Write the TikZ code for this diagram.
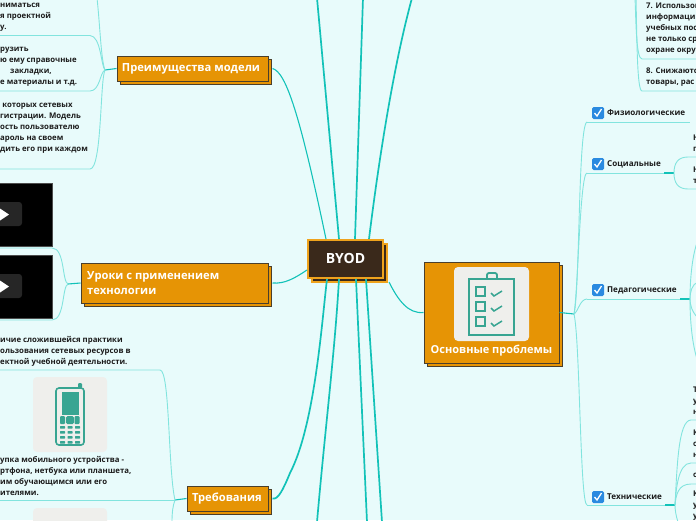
\documentclass[tikz,border=0pt]{standalone}
\usepackage{fontspec}
\setmainfont{Open Sans}
\usetikzlibrary{shadows}
\definecolor{paper}{HTML}{E8FBFB}
\definecolor{boxfill}{HTML}{E69405}
\definecolor{boxedge}{HTML}{4A3F2C}
\definecolor{rootfill}{HTML}{3A291B}
\definecolor{rootedge}{HTML}{EFA31D}
\definecolor{mainline}{HTML}{12C2B8}
\definecolor{subline}{HTML}{82E4DE}
\definecolor{tile}{HTML}{EFEFEC}
\definecolor{icon}{HTML}{38A592}
\definecolor{ink}{HTML}{1C1C1C}
\definecolor{tick}{HTML}{2A8AE0}
\tikzset{%
	block/.style    = {draw=boxedge, fill=boxfill, line width=1pt, text=white, inner sep=0pt,
		font=\bfseries\fontsize{11.2}{15}\selectfont, align=left,
		copy shadow={shadow xshift=3pt, shadow yshift=-3pt}},
	label/.style    = {font=\bfseries\fontsize{11.2}{15}\selectfont, text=white, inner sep=0pt, align=left},
	root/.style     = {draw=rootedge, fill=rootfill, line width=2pt, text=white, inner sep=0pt,
		font=\bfseries\fontsize{14}{15}\selectfont,
		copy shadow={shadow xshift=4pt, shadow yshift=-4pt}},
	note/.style     = {font=\bfseries\fontsize{7.8}{11}\selectfont, text=ink, inner sep=0pt,
		anchor=west, align=left},
	topic/.style    = {note, font=\bfseries\fontsize{8.1}{11}\selectfont},
	tick/.style     = {fill=tick, rounded corners=1.5pt, minimum size=12pt, inner sep=0pt},
	tilebox/.style  = {fill=tile, rounded corners=4pt, inner sep=0pt},
	video/.style    = {fill=black, draw=black!70, inner sep=0pt},
	main/.style     = {draw=mainline, line width=1.7pt},
	sub/.style      = {draw=subline, line width=0.9pt},
	stub/.style     = {draw=mainline, line width=1.1pt}
}
% ticked box next to a topic
\newcommand{\tickmark}[2]{%
	\node[tick] (#1) at #2 {};
	\draw[white, line width=1.3pt] ([shift={(-3.5pt,0pt)}]#1.center) -- ([shift={(-1pt,-3pt)}]#1.center) -- ([shift={(3.5pt,4pt)}]#1.center);
}
\begin{document}
\begin{tikzpicture}[x=1pt,y=-1pt]
	\useasboundingbox[fill=paper] (0,0) rectangle (696,520);

	% boxes
	\node[root, minimum width=75pt, minimum height=38pt] (byod) at (345.5,258.5) {BYOD};
	\node[block, minimum width=151pt, minimum height=25pt] (prem) at (192.5,68.5) {};
	\node[block, minimum width=187pt, minimum height=40pt] (lessons) at (174.5,283) {};
	\node[block, minimum width=81pt, minimum height=25pt] (reqs) at (227.5,498.5) {};
	\node[block, minimum width=135pt, minimum height=101pt] (issues) at (491.5,312.5) {};
	\node[label] (premtext) at (191,69) {Преимущества модели};
	\node[label, anchor=west] (lessonstext) at (87,283.5) {Уроки с применением\\технологии};
	\node[label] (reqstext) at (227,499) {Требования};
	\node[label, font=\bfseries\fontsize{11}{15}\selectfont] (issuestext) at (491.5,351) {Основные проблемы};

	% free ends and joints
	\coordinate (jprem) at (105,70);
	\coordinate (jless) at (68,284);
	\coordinate (jreqs) at (175,500);
	\coordinate (jissu) at (574,314);
	\coordinate (jsoc) at (674,173);
	\coordinate (jped) at (690,299);
	\coordinate (jtech) at (675,505);
	\coordinate (ta) at (326,239);
	\coordinate (tb) at (339,239);
	\coordinate (tc) at (355,239);
	\coordinate (td) at (369,239);
	\coordinate (ba) at (327,279);
	\coordinate (bb) at (339,279);
	\coordinate (bc) at (356,279);
	\coordinate (bd) at (366,279);
	\coordinate (be) at (389,282);
	\coordinate (la) at (307,270);
	\coordinate (uptb) at (317,-2);
	\coordinate (uptc) at (363,-2);
	\coordinate (uptd) at (412,-2);
	\coordinate (dnbb) at (317,522);
	\coordinate (dnbc) at (367,522);
	\coordinate (dnbd) at (382,522);

	% main branches
	\draw[main, line width=1.1pt] ([xshift=4pt]prem.east) .. controls (286,72) and (300,115) .. (ta);
	\draw[main] (uptb) -- (tb);
	\draw[main] (uptc) -- (tc);
	\draw[main] (uptd) .. controls (395,60) and (380,150) .. (td);
	\draw[main] (ba) .. controls (322,320) and (315,425) .. (290,473) .. controls (283,490) and (278,500) .. ([xshift=4pt]reqs.east);
	\draw[main] (bb) .. controls (335,350) and (325,430) .. (dnbb);
	\draw[main] (bc) -- (dnbc);
	\draw[main] (bd) -- (dnbd);
	\draw[main, line width=1.1pt] (la) .. controls (295,278) and (285,284) .. ([xshift=4pt]lessons.east);
	\draw[main, line width=1.1pt] (be) .. controls (398,300) and (408,314) .. (issues.west);

	% left: Преимущества модели
	\draw[stub] (prem.west) -- (jprem);
	\coordinate (e1) at (97,-2);
	\coordinate (e2) at (0,35.5);
	\coordinate (e3) at (0,91);
	\coordinate (e4) at (0,169);
	\draw[sub] (jprem) .. controls (101,60) and (100,25) .. (e1);
	\draw[sub] (jprem) .. controls (101,66) and (101,36) .. (90,35.5) -- (e2);
	\draw[sub] (jprem) .. controls (100,72) and (100,91) .. (90,91) -- (e3);
	\draw[sub] (jprem) .. controls (100,80) and (102,169) .. (90,169) -- (e4);
	\node[note] (n1) at (0,17) {ниматься\\я проектной\\у.};
	\node[note] (n2) at (0,55.5) {рузить\\ю ему справочные};
	\node[note] (n2b) at (10,72) {закладки,};
	\node[note] (n2c) at (0,83) {е материалы и т.д.};
	\node[note] (n3) at (0,128) {\phantom{.}которых сетевых\\гистрации. Модель\\ость пользователю\\ароль на своем\\дить его при каждом};

	% left: Уроки с применением технологии
	\draw[stub] (lessons.west) -- (jless);
	\coordinate (e5) at (0,248);
	\coordinate (e6) at (0,320);
	\draw[sub] (jless) .. controls (62,282) and (65,248) .. (52,248) -- (e5);
	\draw[sub] (jless) .. controls (62,286) and (65,320) .. (52,320) -- (e6);
	\node[video, minimum width=54pt, minimum height=63pt] (vid1) at (25,214.5) {};
	\node[video, minimum width=54pt, minimum height=63pt] (vid2) at (25,286.5) {};
	\fill[black!85, rounded corners=3pt] (-5,202) rectangle (22,226);
	\fill[black!85, rounded corners=3pt] (-5,274) rectangle (22,298);
	\fill[white] (0,208.5) -- (9,214.5) -- (0,220.5) -- cycle;
	\fill[white] (0,280.5) -- (9,286.5) -- (0,292.5) -- cycle;

	% left: Требования
	\draw[stub] (reqs.west) -- (jreqs);
	\coordinate (e7) at (0,370);
	\coordinate (e8) at (0,500);
	\coordinate (e9) at (172,522);
	\draw[sub] (jreqs) .. controls (168,470) and (170,370) .. (160,370) -- (e7);
	\draw[sub] (jreqs) -- (e8);
	\draw[sub] (jreqs) .. controls (173,505) and (172,512) .. (e9);
	\node[note] (n4) at (0,351) {ичие сложившейся практики\\ользования сетевых ресурсов в\\ектной учебной деятельности.};
	\node[note] (n5) at (0,475.5) {упка мобильного устройства -\\ртфона, нетбука или планшета,\\им обучающимся или его\\ителями.};
	\node[tilebox, minimum width=74pt, minimum height=75pt] (phone) at (70,414.5) {};
	\node[tilebox, minimum width=74pt, minimum height=30pt] (tile2) at (70,523) {};
	% phone
	\draw[icon, line width=1.6pt, rounded corners=3pt] (56,388) rectangle (84,445);
	\fill[icon, rounded corners=1pt] (78,383) rectangle (82,388);
	\fill[icon] (62,392) rectangle (79,415);
	\fill[icon, rounded corners=1.5pt] (66,416) rectangle (74,424);
	\foreach \px in {60,74.5} {
		\fill[icon, rounded corners=1pt] (\px,416) rectangle ++(5,8);
	}
	\foreach \px in {60,67.5,75} {
		\foreach \py in {425,430,435,440} {
			\fill[icon, rounded corners=.5pt] (\px,\py+1) rectangle ++(5,2.6);
		}
	}

	% right: Основные проблемы
	\coordinate (e10) at (587,122);
	\coordinate (e11) at (587,173);
	\coordinate (e12) at (587,299);
	\coordinate (e13) at (587,505);
	\draw[stub] (issues.east) -- (jissu);
	\draw[sub] (jissu) .. controls (580,290) and (578,125) .. (e10);
	\draw[sub] (jissu) .. controls (578,290) and (580,173) .. (e11);
	\draw[sub] (jissu) .. controls (578,312) and (580,299) .. (e12);
	\draw[sub] (jissu) .. controls (580,340) and (580,505) .. (e13);
	\draw[sub] (e10) -- (690,122);
	\draw[sub] (e11) -- (jsoc);
	\draw[sub] (e12) -- (jped);
	\draw[sub] (e13) -- (jtech);
	\draw[stub] (664,173) -- (jsoc);
	\draw[stub] (680,299) -- (jped);
	\draw[stub] (665,505) -- (jtech);

	% right: children of the topics
	\coordinate (r1) at (698,157);
	\coordinate (r2) at (698,189);
	\coordinate (r3) at (698,240);
	\coordinate (r4) at (698,282);
	\coordinate (r5) at (698,318);
	\coordinate (r6) at (698,362);
	\coordinate (r7) at (698,420);
	\coordinate (r8) at (698,463);
	\coordinate (r9) at (698,484);
	\coordinate (r10) at (678,522);
	\coordinate (r11) at (698,59);
	\coordinate (r12) at (698,91);
	\coordinate (r13) at (635,-2);
	\coordinate (r14) at (636,-2);
	\draw[sub] (jsoc) .. controls (674,163) and (678,157) .. (688,157) -- (r1);
	\draw[sub] (jsoc) .. controls (674,183) and (678,189) .. (688,189) -- (r2);
	\draw[sub] (jped) .. controls (690,280) and (692,255) .. (r3);
	\draw[sub] (jped) .. controls (690,292) and (692,284) .. (r4);
	\draw[sub] (jped) .. controls (690,305) and (692,312) .. (r5);
	\draw[sub] (jped) .. controls (690,320) and (692,345) .. (r6);
	\draw[sub] (jtech) .. controls (677,470) and (678,420) .. (691,420) -- (r7);
	\draw[sub] (jtech) .. controls (676,490) and (678,463) .. (691,463) -- (r8);
	\draw[sub] (jtech) .. controls (676,495) and (678,484) .. (691,484) -- (r9);
	\draw[sub] (jtech) .. controls (675,510) and (676,516) .. (r10);
	\draw[sub] (r13) .. controls (636,20) and (636,59) .. (642,59) -- (r11);
	\draw[sub] (r14) .. controls (637,40) and (637,91) .. (642,91) -- (r12);

	\tickmark{chka}{(598,113)}
	\tickmark{chkb}{(598,164)}
	\tickmark{chkc}{(598,290)}
	\tickmark{chkd}{(598,497)}
	\node[topic] (physio) at (607,113) {Физиологические};
	\node[topic] (social) at (607,164) {Социальные};
	\node[topic] (pedag) at (607,290) {Педагогические};
	\node[topic] (techn) at (607,497) {Технические};
	\node[note] (n6) at (646,29) {7. Использов\\информаци\\учебных пос\\не только ср\\охране окру};
	\node[note] (n7) at (646,77.5) {8. Снижаютс\\товары, рас};
	\node[note] (n8) at (693,143.5) {Н\\п};
	\node[note] (n9) at (693,175.5) {Н\\т};
	\node[note] (n10) at (693,401) {Т\\у\\н};
	\node[note] (n11) at (693,444) {К\\о\\н};
	\node[note] (n12) at (693,475) {о};
	\node[note] (n13) at (693,506) {К\\у\\у};

	% Основные проблемы: checklist
	\node[tilebox, minimum width=75pt, minimum height=74pt] (list) at (491.5,304) {};
	\draw[icon, line width=2.6pt] (469,279) rectangle (514,335);
	\draw[icon, line width=1.8pt, rounded corners=2pt] (487,279) -- (487,273) -- (497,273) -- (497,279);
	\foreach \py in {287,302,317} {
		\draw[icon, line width=1.3pt] (476,\py) rectangle ++(9,9);
		\draw[icon, line width=1.5pt] (491,\py+6) -- (494,\py+9) -- (502,\py+4);
	}
\end{tikzpicture}
\end{document}
